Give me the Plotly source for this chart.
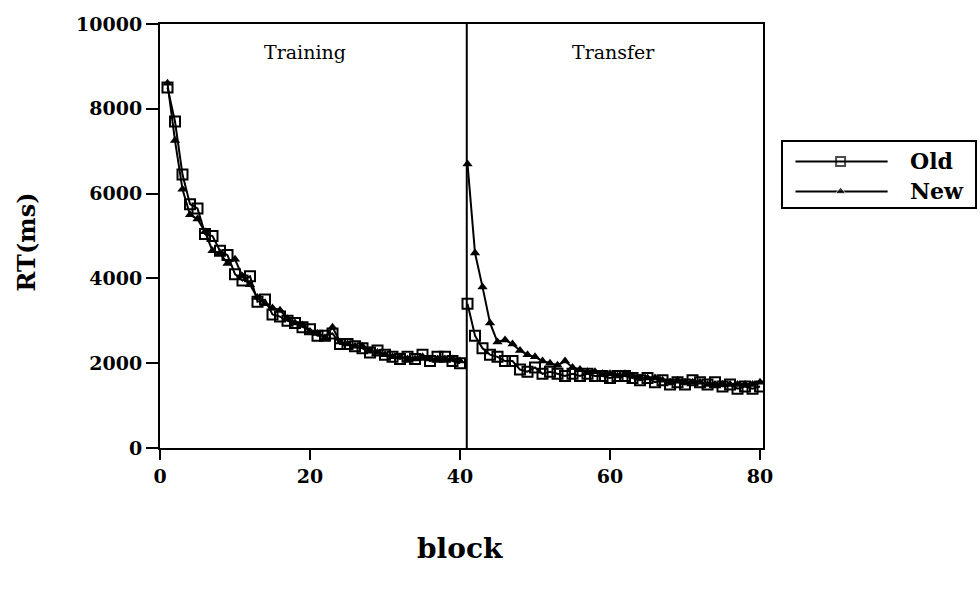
import plotly.graph_objects as go

# ---- data ----
train_blocks = list(range(1, 41))
transfer_blocks = list(range(41, 81))

train_old = [8500, 7700, 6450, 5750, 5650, 5050, 5000, 4650, 4550, 4100,
             3950, 4050, 3450, 3500, 3150, 3100, 3000, 2950, 2850, 2800,
             2650, 2650, 2700, 2450, 2450, 2400, 2350, 2250, 2300, 2200,
             2150, 2100, 2150, 2100, 2200, 2050, 2150, 2150, 2050, 2000]
train_new = [8600, 7250, 6100, 5500, 5400, 5100, 4650, 4600, 4350, 4450,
             4050, 3850, 3550, 3400, 3300, 3250, 3050, 2950, 2900, 2750,
             2700, 2600, 2850, 2500, 2450, 2400, 2400, 2300, 2250, 2200,
             2150, 2150, 2100, 2100, 2150, 2100, 2100, 2100, 2100, 2050]
transfer_old = [3400, 2650, 2350, 2200, 2150, 2050, 2050, 1850, 1800, 1900,
                1750, 1800, 1750, 1700, 1750, 1700, 1750, 1700, 1700, 1650,
                1700, 1700, 1650, 1600, 1650, 1550, 1600, 1500, 1550, 1500,
                1600, 1550, 1500, 1550, 1450, 1500, 1400, 1450, 1400, 1450]
transfer_new = [6700, 4600, 3800, 2950, 2500, 2550, 2450, 2300, 2200, 2150,
                2050, 2000, 1950, 2050, 1900, 1850, 1800, 1800, 1750, 1750,
                1700, 1750, 1700, 1650, 1650, 1650, 1600, 1550, 1600, 1550,
                1550, 1550, 1500, 1500, 1500, 1500, 1500, 1500, 1500, 1550]

x_ticks = [0, 20, 40, 60, 80]
x_ticktext = ["0", "20", "40", "60", "80"]
y_ticks = [0, 2000, 4000, 6000, 8000, 10000]
y_ticktext = ["0", "2000", "4000", "6000", "8000", "10000"]
phase_labels = ["Training", "Transfer"]
series_names = ["Old", "New"]

FONT = "DejaVu Serif"
fig = go.Figure()

old_style = dict(mode="lines+markers", line=dict(color="black", width=2),
                 marker=dict(symbol="square-open", size=10, color="black",
                             line=dict(color="black", width=2)))
new_style = dict(mode="lines+markers", line=dict(color="black", width=2),
                 marker=dict(symbol="triangle-up", size=9, color="black"))

fig.add_trace(go.Scatter(x=train_blocks, y=train_old, name="Old", showlegend=False, **old_style))
fig.add_trace(go.Scatter(x=transfer_blocks, y=transfer_old, name="Old", showlegend=False, **old_style))
fig.add_trace(go.Scatter(x=train_blocks, y=train_new, name="New", showlegend=False, **new_style))
fig.add_trace(go.Scatter(x=transfer_blocks, y=transfer_new, name="New", showlegend=False, **new_style))

# ---- legend drawn in its own small axes box ----
leg_rows = [0.70, 0.24]
leg_styles = [old_style, new_style]
for name, row, st in zip(series_names, leg_rows, leg_styles):
    mk = dict(st["marker"])
    mk["size"] = [0, 9, 0]
    fig.add_trace(go.Scatter(x=[0.065, 0.30, 0.545], y=[row, row, row], mode="lines+markers",
                             line=st["line"], marker=mk, xaxis="x2", yaxis="y2",
                             showlegend=False, hoverinfo="skip"))
    fig.add_annotation(x=0.65, y=row, xref="x2", yref="y2", text="<b>%s</b>" % name,
                       xanchor="left", yanchor="middle", showarrow=False,
                       font=dict(family=FONT, size=22, color="black"))

# divider between phases
fig.add_shape(type="line", x0=40.9, x1=40.9, y0=0, y1=1,
              xref="x", yref="y domain", line=dict(color="black", width=2))

for lbl, lx in zip(phase_labels, [0.2405, 0.7514]):
    fig.add_annotation(x=lx, y=0.934, xref="x domain", yref="y domain", text=lbl,
                       showarrow=False, xanchor="center", yanchor="middle",
                       font=dict(family=FONT, size=19, color="black"))

fig.add_annotation(x=-0.222, y=0.485, xref="x domain", yref="y domain", text="<b>RT(ms)</b>",
                   textangle=-90, showarrow=False, xanchor="center", yanchor="middle",
                   font=dict(family=FONT, size=24, color="black"))
fig.add_annotation(x=0.4975, y=-0.238, xref="x domain", yref="y domain", text="<b>block</b>",
                   showarrow=False, xanchor="center", yanchor="middle",
                   font=dict(family=FONT, size=28, color="black"))

axis_font = dict(family=FONT, size=19, color="black", weight="bold")
fig.update_layout(
    width=980, height=591,
    margin=dict(l=160, r=5, t=24, b=143, autoexpand=False),
    plot_bgcolor="white", paper_bgcolor="white",
    font=dict(family=FONT, color="black"),
    showlegend=False,
    xaxis=dict(domain=[0, 0.7399], range=[0, 80.4], tickvals=x_ticks, ticktext=x_ticktext,
               ticks="outside", ticklen=10, tickwidth=2, tickcolor="black",
               showline=True, linecolor="black", linewidth=2, mirror=True,
               showgrid=False, zeroline=False, tickfont=axis_font),
    yaxis=dict(range=[0, 10000], tickvals=y_ticks, ticktext=y_ticktext,
               ticks="outside", ticklen=12, tickwidth=2, tickcolor="black",
               showline=True, linecolor="black", linewidth=2, mirror=True,
               showgrid=False, zeroline=False, tickfont=axis_font),
    xaxis2=dict(domain=[0.7644, 1.0], range=[0, 1], anchor="y2", showline=True,
                linecolor="black", linewidth=2, mirror=True, showgrid=False,
                zeroline=False, showticklabels=False, ticks="", fixedrange=True),
    yaxis2=dict(domain=[0.568, 0.722], range=[0, 1], anchor="x2", showline=True,
                linecolor="black", linewidth=2, mirror=True, showgrid=False,
                zeroline=False, showticklabels=False, ticks="", fixedrange=True),
)

fig.write_html("out.html")
